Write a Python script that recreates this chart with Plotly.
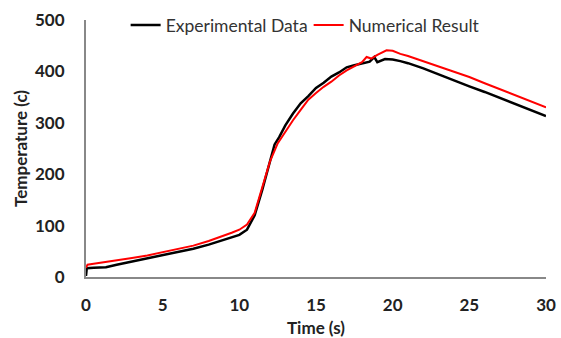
import plotly.graph_objects as go

# Experimental data (black)
exp_t = [0, 0.05, 0.5, 1.0, 1.3, 2, 3, 4, 5, 6, 7, 8, 9, 10, 10.5, 11, 11.5, 12, 12.3,
         12.6, 13, 13.5, 14, 14.5, 15, 15.5, 16, 16.5, 17, 17.5, 18, 18.5, 18.8, 19, 19.5,
         20, 20.5, 21, 22, 23, 24, 25, 26, 27, 28, 29, 30]
exp_T = [2, 17, 18, 18, 19, 24, 30, 36, 42, 48, 55, 63, 72, 82, 92, 120, 170, 228, 258,
         272, 295, 318, 338, 352, 368, 378, 390, 398, 408, 412, 416, 419, 428, 418, 424,
         423, 420, 416, 406, 394, 383, 371, 360, 348, 337, 325, 313]

# Numerical result (red)
num_t = [0, 0.1, 0.5, 1, 2, 3, 4, 5, 6, 7, 8, 9, 9.5, 10, 10.5, 11, 11.5, 12, 12.5,
         13, 13.5, 14, 14.5, 15, 15.5, 16, 16.5, 17, 17.5, 18, 18.3, 18.6, 19, 19.3, 19.6,
         20, 20.5, 21, 22, 23, 24, 25, 26, 27, 28, 29, 30]
num_T = [18, 24, 26, 28, 32, 37, 42, 48, 54, 61, 70, 80, 86, 92, 102, 125, 175, 225, 260,
         283, 305, 325, 345, 358, 370, 380, 392, 402, 410, 418, 428, 425, 432, 437, 441,
         440, 434, 430, 420, 410, 400, 389, 377, 365, 353, 341, 330]

x_ticks = [0, 5, 10, 15, 20, 25, 30]
y_ticks = [0, 100, 200, 300, 400, 500]

fig = go.Figure()
fig.add_trace(go.Scatter(x=exp_t, y=exp_T, mode="lines", name="Experimental Data",
                         line=dict(color="black", width=2.5)))
fig.add_trace(go.Scatter(x=num_t, y=num_T, mode="lines", name="Numerical Result",
                         line=dict(color="#ff0000", width=2)))

font_family = "Lato, Open Sans, sans-serif"
fig.update_layout(
    width=561, height=338,
    margin=dict(l=86, r=15, t=20, b=61, autoexpand=False),
    paper_bgcolor="white", plot_bgcolor="white",
    font=dict(family=font_family, color="#222222"),
    legend=dict(orientation="h", x=0.484, xanchor="center", y=0.98, yanchor="middle",
                font=dict(size=17.5, color="#333333"), bgcolor="rgba(0,0,0,0)",
                itemwidth=30, entrywidth=138),
    showlegend=True,
)
fig.update_xaxes(range=[0, 30], tickvals=x_ticks, ticktext=[f"<b>{v}</b>" for v in x_ticks],
                 showgrid=False, zeroline=False, showline=True, linecolor="#888888", linewidth=2,
                 ticks="", ticklabelstandoff=12, ticklabeloverflow="allow",
                 tickfont=dict(size=17, color="#222222"),
                 title=dict(text="<b>Time (s)</b>", font=dict(size=17, color="#222222"), standoff=8))
fig.update_yaxes(range=[0, 500], tickvals=y_ticks, ticktext=[f"<b>{v}</b>" for v in y_ticks],
                 showgrid=False, zeroline=False, showline=True, linecolor="#888888", linewidth=2,
                 ticks="", ticklabelstandoff=16, tickfont=dict(size=17, color="#222222"),
                 title=dict(text="<b>Temperature (c)</b>", font=dict(size=17, color="#222222"), standoff=3))

fig.write_html("out.html",
               config={"displayModeBar": False},
               post_script="document.body.style.margin='0px';document.body.style.overflow='hidden';")
